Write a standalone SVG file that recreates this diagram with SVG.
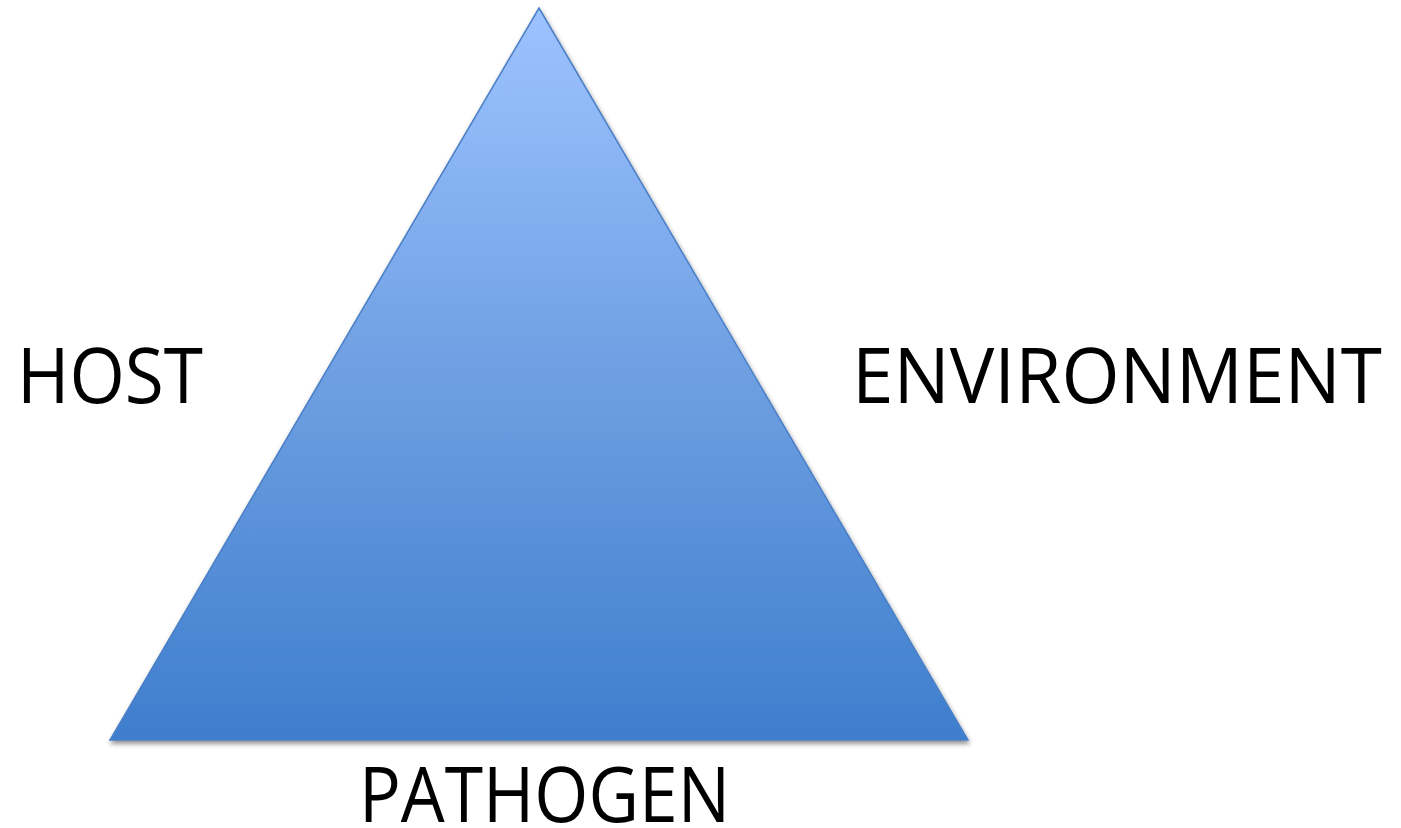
<svg xmlns="http://www.w3.org/2000/svg" width="1401" height="828" viewBox="0 0 1401 828">
<style>
.lbl{font-family:"Open Sans","Liberation Sans",sans-serif;font-size:76px;fill:#000}
</style>
<defs>
<linearGradient id="g" x1="0" y1="0" x2="0" y2="1">
<stop offset="0" stop-color="#9DC3FF"/>
<stop offset="0.5" stop-color="#6E9FE2"/>
<stop offset="1" stop-color="#3E7ECD"/>
</linearGradient>
<filter id="sh" x="-10%" y="-10%" width="120%" height="130%">
<feGaussianBlur in="SourceAlpha" stdDeviation="2.5"/>
<feOffset dx="1" dy="3"/>
<feComponentTransfer><feFuncA type="linear" slope="0.45"/></feComponentTransfer>
<feMerge><feMergeNode/><feMergeNode in="SourceGraphic"/></feMerge>
</filter>
</defs>
<rect width="1401" height="828" fill="#fff"/>
<g id="triangle">
<polygon points="539,8 968,740 110,740" fill="url(#g)" stroke="#4A7FC6" stroke-width="1.5" filter="url(#sh)"/>
</g>
<g id="host"><text class="lbl" x="17" y="403" textLength="186" lengthAdjust="spacingAndGlyphs">HOST</text></g>
<g id="environment"><text class="lbl" x="852" y="403" textLength="530" lengthAdjust="spacingAndGlyphs">ENVIRONMENT</text></g>
<g id="pathogen"><text class="lbl" x="359" y="822" textLength="371" lengthAdjust="spacingAndGlyphs">PATHOGEN</text></g>
<g id="connectors"/>
</svg>
